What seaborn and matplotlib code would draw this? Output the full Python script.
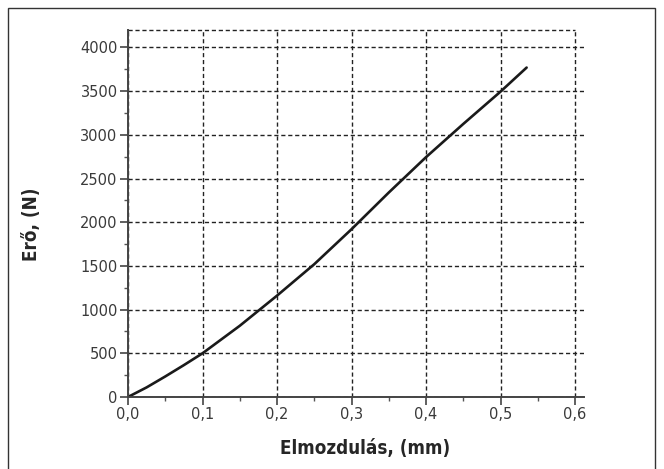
import matplotlib
matplotlib.use("Agg")
import matplotlib.pyplot as plt
import pandas as pd
import seaborn as sns
from matplotlib.patches import Rectangle
from matplotlib.ticker import FuncFormatter, MultipleLocator

# displacement (mm) and force (N)
displacement = [0.0, 0.025, 0.05, 0.075, 0.1, 0.15, 0.2, 0.25, 0.3, 0.35, 0.4, 0.45, 0.5, 0.535]
force = [0, 110, 235, 365, 500, 815, 1160, 1520, 1920, 2340, 2745, 3125, 3495, 3770]

x_ticks = [0.0, 0.1, 0.2, 0.3, 0.4, 0.5, 0.6]
y_ticks = [0, 500, 1000, 1500, 2000, 2500, 3000, 3500, 4000]

data = pd.DataFrame({"x": displacement, "y": force})

sns.set_style("white")
plt.rcParams["font.family"] = ["DejaVu Sans"]

fig = plt.figure(figsize=(6.64, 4.69), dpi=100, facecolor="white")
ax = fig.add_axes([128 / 664, 72 / 469, 456 / 664, 367 / 469])

sns.lineplot(data=data, x="x", y="y", color="#1a1a1a", linewidth=1.9, ax=ax)

ax.set_xlim(0, 0.612)
ax.set_ylim(0, 4200)
ax.set_xticks(x_ticks)
ax.set_yticks(y_ticks)
ax.xaxis.set_minor_locator(MultipleLocator(0.05))
ax.yaxis.set_minor_locator(MultipleLocator(250))
ax.xaxis.set_major_formatter(FuncFormatter(lambda v, p: f"{v:.1f}".replace(".", ",")))

# dashed grid
ax.grid(True, which="major", linestyle=(0, (3, 2)), color="#222222", linewidth=1.0)
ax.axhline(4200, xmin=0, xmax=0.6 / 0.612, linestyle=(0, (3, 2)), color="#222222",
           linewidth=1.0, clip_on=False)

for side in ["top", "right"]:
    ax.spines[side].set_visible(False)
for side in ["left", "bottom"]:
    ax.spines[side].set_color("#444444")
    ax.spines[side].set_linewidth(1.4)

ax.tick_params(which="major", direction="out", length=6, width=1.2, color="#444444",
               labelsize=10.5, labelcolor="#3a3a3a", left=True, bottom=True, pad=1.5)
ax.tick_params(which="minor", direction="out", length=3, width=1.0, color="#555555",
               left=True, bottom=True)

ax.set_xlabel("Elmozdulás, (mm)", fontsize=13.5, fontweight="bold", family="DejaVu Sans",
              fontstretch="condensed")
ax.xaxis.set_label_coords(0.52, -0.115)
ax.set_ylabel("Erő, (N)", fontsize=13.5, fontweight="bold", family="DejaVu Sans",
              fontstretch="condensed")
ax.yaxis.set_label_coords(-0.19, 0.47)

# frame around the whole picture
fig.patches.append(Rectangle((8 / 664, -0.05), 647 / 664, 1.05 - 8 / 469,
                             transform=fig.transFigure, fill=False,
                             edgecolor="#333333", linewidth=1.0))

fig.savefig("out.png", dpi=100, facecolor="white")
